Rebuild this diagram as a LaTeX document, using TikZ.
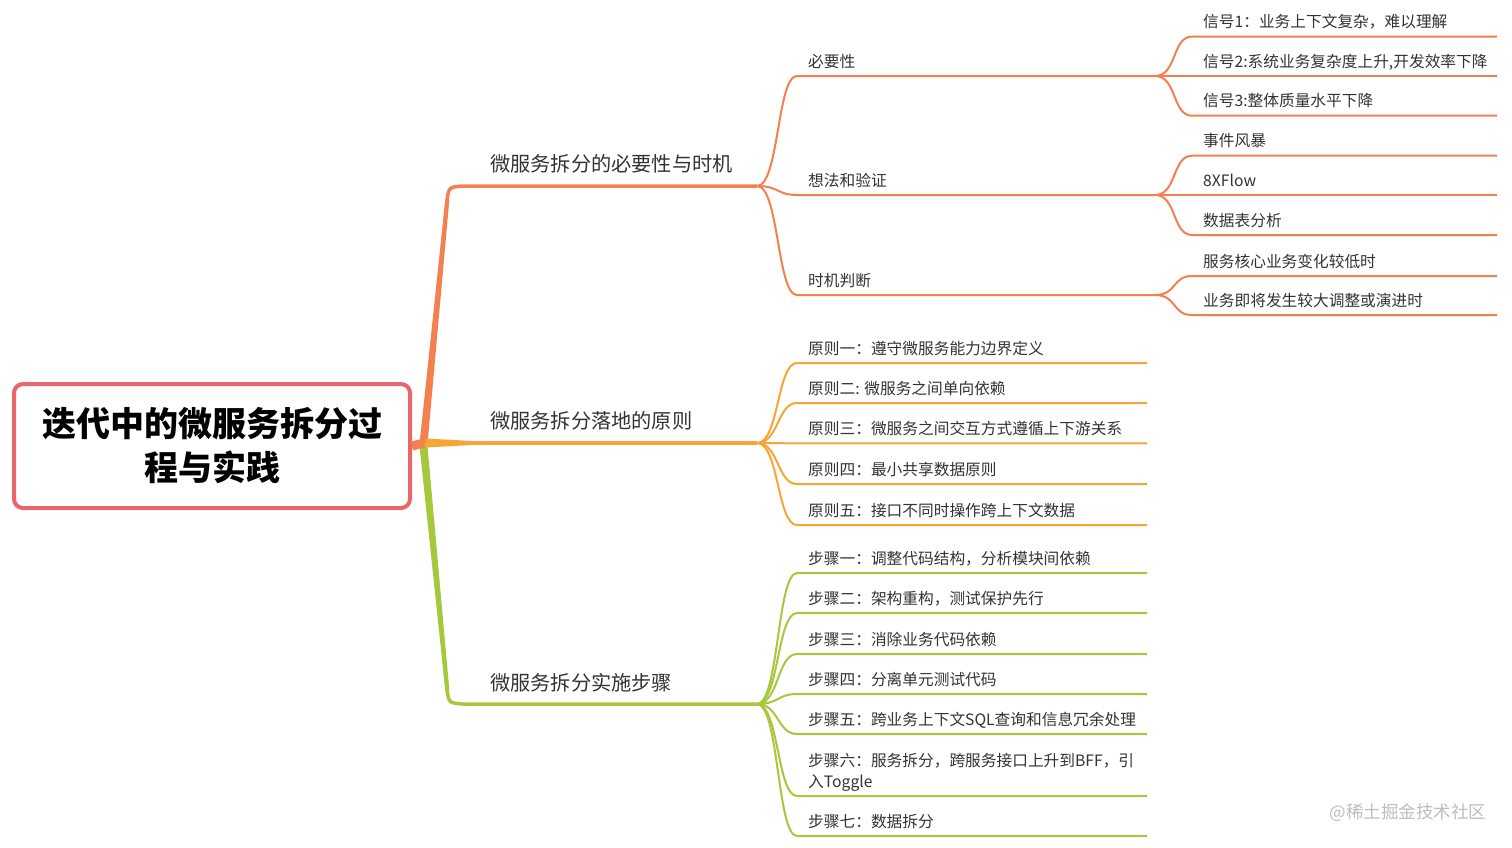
\documentclass[tikz,border=0pt]{standalone}
\usepackage{fontspec}
\setmainfont{Noto Sans CJK SC}
\usetikzlibrary{calc}
\definecolor{cA}{HTML}{F4804F}
\definecolor{cB}{HTML}{F7A536}
\definecolor{cC}{HTML}{A6C83A}
\definecolor{rootc}{HTML}{E8676B}
\definecolor{txt}{HTML}{333333}
\definecolor{wmc}{HTML}{BDBDBD}
\tikzset{
  lab1/.style={font=\fontsize{20.2}{24}\selectfont, text=txt, anchor=base west, inner sep=0pt},
  lab2/.style={font=\fontsize{15.7}{21}\selectfont, text=txt, anchor=base west, inner sep=0pt, align=left},
  con/.style={line width=2pt},
}
% #1 name, #2 parent, #3 xstart, #4 xend, #5 y, #6 text, #7 colour
\newcommand\mmleaf[7]{%
  \coordinate (#1s) at (#3,#5);
  \coordinate (#1e) at (#4,#5);
  \draw[con,#7] (#2) .. controls +(22,0) and +(-20,0) .. (#1s) -- (#1e);
  \node[lab2] (#1) at ($(#1s)+(11,-9)$) {#6};
}
\begin{document}
\begin{tikzpicture}[x=1pt,y=-1pt]
\useasboundingbox (0,0) rectangle (1512,847);
\fill[white] (0,0) rectangle (1512,847);

\coordinate (f) at (424,443);
\coordinate (b1e) at (757,186);
\coordinate (b2e) at (757,443);
\coordinate (b3e) at (757,704);

% main branches
\draw[cA, line width=3.5pt] (f) -- (447,200) .. controls (449,187) .. (463,186) -- (b1e);
\fill[cA] (419.5,444) -- (427.5,444) -- (449.3,200) -- (445.3,200) -- cycle;
\draw[cC, line width=3.5pt] (f) -- (447,690) .. controls (449,703) .. (463,704) -- (b3e);
\fill[cC] (419.5,446) -- (427.5,446) -- (449.3,690) -- (445.3,690) -- cycle;

\node[draw=rootc, line width=4pt, rounded corners=9pt, minimum width=396pt, minimum height=124pt,
      fill=white, font=\fontsize{34}{44}\selectfont\bfseries, align=center, text=black]
      (root) at (212,446) {迭代中的微服务拆分过\\程与实践};

\draw[cA, line width=9pt] (root.east) -- (f |- 443,443);
\fill[cB] (426,438.5) -- (426,447.5) -- (478,444.7) -- (478,441.3) -- cycle;
\draw[cB, line width=3.5pt] (470,443) -- (b2e);

\node[lab1] (t1) at (490,171) {微服务拆分的必要性与时机};
\node[lab1] (t2) at (490,428) {微服务拆分落地的原则};
\node[lab1] (t3) at (490,690) {微服务拆分实施步骤};

% branch 1
\mmleaf{a1}{b1e}{797}{1155}{76}{必要性}{cA}
\mmleaf{a2}{b1e}{797}{1155}{195}{想法和验证}{cA}
\mmleaf{a3}{b1e}{797}{1155}{295}{时机判断}{cA}

\mmleaf{a11}{a1e}{1192}{1497}{36.5}{信号1：业务上下文复杂，难以理解}{cA}
\mmleaf{a12}{a1e}{1192}{1497}{76}{信号2:系统业务复杂度上升,开发效率下降}{cA}
\mmleaf{a13}{a1e}{1192}{1497}{115.7}{信号3:整体质量水平下降}{cA}
\mmleaf{a21}{a2e}{1192}{1497}{155.7}{事件风暴}{cA}
\mmleaf{a22}{a2e}{1192}{1497}{195}{8XFlow}{cA}
\mmleaf{a23}{a2e}{1192}{1497}{235}{数据表分析}{cA}
\mmleaf{a31}{a3e}{1192}{1497}{276}{服务核心业务变化较低时}{cA}
\mmleaf{a32}{a3e}{1192}{1497}{315}{业务即将发生较大调整或演进时}{cA}

% branch 2
\mmleaf{p1}{b2e}{797}{1147}{363}{原则一：遵守微服务能力边界定义}{cB}
\mmleaf{p2}{b2e}{797}{1147}{403}{原则二: 微服务之间单向依赖}{cB}
\mmleaf{p3}{b2e}{797}{1147}{443.3}{原则三：微服务之间交互方式遵循上下游关系}{cB}
\mmleaf{p4}{b2e}{797}{1147}{484}{原则四：最小共享数据原则}{cB}
\mmleaf{p5}{b2e}{797}{1147}{525}{原则五：接口不同时操作跨上下文数据}{cB}

% branch 3
\mmleaf{s1}{b3e}{797}{1147}{573}{步骤一：调整代码结构，分析模块间依赖}{cC}
\mmleaf{s2}{b3e}{797}{1147}{613}{步骤二：架构重构，测试保护先行}{cC}
\mmleaf{s3}{b3e}{797}{1147}{654}{步骤三：消除业务代码依赖}{cC}
\mmleaf{s4}{b3e}{797}{1147}{694}{步骤四：分离单元测试代码}{cC}
\mmleaf{s5}{b3e}{797}{1147}{734}{步骤五：跨业务上下文SQL查询和信息冗余处理}{cC}
\coordinate (s6s) at (797,796);
\coordinate (s6e) at (1147,796);
\draw[con,cC] (b3e) .. controls +(22,0) and +(-20,0) .. (s6s) -- (s6e);
\node[lab2] (s6) at (808,787) {步骤六：服务拆分，跨服务接口上升到BFF，引\\入Toggle};
\mmleaf{s7}{b3e}{797}{1147}{836}{步骤七：数据拆分}{cC}

\node[font=\fontsize{17.5}{20}\selectfont, text=wmc, inner sep=0pt] (wm) at (1408,813) {@稀土掘金技术社区};
\end{tikzpicture}
\end{document}
